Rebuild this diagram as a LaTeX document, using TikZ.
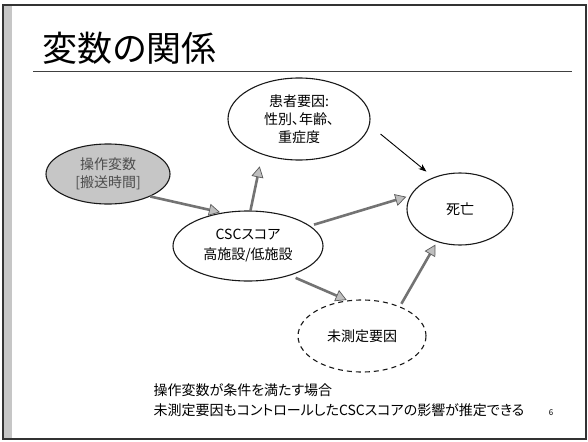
\documentclass[tikz,border=0pt]{standalone}
\usepackage{fontspec}
\setmainfont{Noto Sans CJK JP}[RawFeature=+palt]
\usetikzlibrary{shapes.geometric,arrows.meta}
\begin{document}
\begin{tikzpicture}[x=1pt,y=-1pt,
  every node/.style={font=\fontsize{14}{18}\selectfont},
  oval/.style={ellipse, draw=black!90, line width=1.1pt, inner sep=0pt, align=center},
  garrow/.style={draw=black!55, line width=2.6pt,
    -{Triangle[length=11pt,width=12pt,fill=gray!50,color=black!65,line width=0.7pt]}},
  tarrow/.style={draw=black, line width=0.9pt, -{Stealth[length=8pt,width=6pt]}}]
\useasboundingbox (0,0) rectangle (588,441);
% slide frame
\fill[gray!45] (3,5) rectangle (12,439);
\draw[line width=1.5pt, black!80] (3,5) rectangle (586,439);
\draw[line width=0.8pt, black!75] (33,71) -- (572,71);
\node[anchor=west, font=\fontsize{35}{40}\selectfont] (title) at (39,48) {変数の関係};
% nodes
\node[oval, fill=gray!45, text=black!70, minimum width=124pt, minimum height=60pt] (op) at (108,174) {操作変数\\{}{[搬送時間]}};
\node[oval, minimum width=142pt, minimum height=82pt] (pat) at (299,119) {患者要因:\\性別、年齢、\\重症度};
\node[oval, minimum width=150pt, minimum height=70pt, font=\fontsize{14}{20}\selectfont] (csc) at (248,246) {CSCスコア\\高施設/低施設};
\node[oval, minimum width=106pt, minimum height=72pt] (death) at (460,209) {死亡};
\node[oval, dashed, dash pattern=on 5pt off 4pt, minimum width=128pt, minimum height=72pt] (unm) at (362,336) {未測定要因};
% connectors
\draw[garrow, shorten >=2pt] (op.-28) -- (csc.128);
\draw[garrow, shorten >=12pt] (csc.86) -- (pat.-136);
\draw[tarrow, shorten <=14pt, shorten >=9pt] (pat.-5) -- (death.130);
\draw[garrow, shorten <=4pt, shorten >=4pt] (csc.18) -- (death.165);
\draw[garrow, shorten <=6pt, shorten >=1pt] (csc.-35) -- (unm.112);
\draw[garrow, shorten <=3pt, shorten >=3pt] (unm.38) -- (death.-125);
% caption
\node[anchor=north west, align=left, font=\fontsize{14}{20}\selectfont] (cap) at (150,380) {操作変数が条件を満たす場合\\未測定要因もコントロールしたCSCスコアの影響が推定できる};
\node[font=\fontsize{8}{10}\selectfont] (pg) at (551,413) {6};
\end{tikzpicture}
\end{document}
